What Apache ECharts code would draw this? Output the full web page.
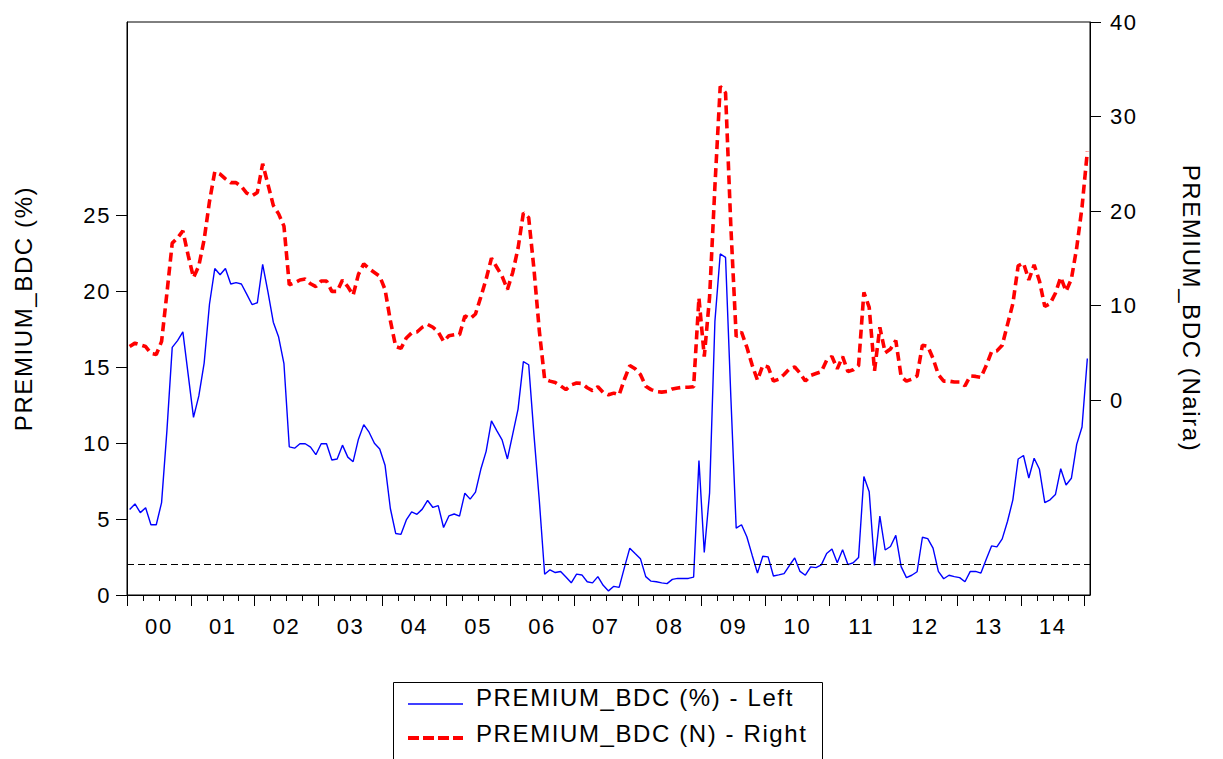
<!DOCTYPE html>
<html>
<head>
<meta charset="utf-8">
<title>PREMIUM_BDC</title>
<script src="https://cdn.jsdelivr.net/npm/echarts@6.0.0/dist/echarts.min.js"></script>
<style>
  html, body { margin: 0; padding: 0; background: #fff; }
  #main { width: 1223px; height: 759px; }
  /* eviews spaces its letters a bit wider than plain arial */
  #main svg text { letter-spacing: 1.6px; }
</style>
</head>
<body>
<div id="main"></div>
<script>
// monthly observations, 2000M01 .. 2015M01
const startYear = 2000;
const yearLabels = ['00', '01', '02', '03', '04', '05', '06', '07', '08', '09', '10', '11', '12', '13', '14'];

// PREMIUM_BDC (%) - left axis
const premiumPct = [
  5.63, 5.99, 5.42, 5.74, 4.62, 4.62, 6.08, 10.8, 16.29, 16.74, 17.31, 14.5,
  11.69, 13.1, 15.26, 19.13, 21.48, 21.07, 21.48, 20.46, 20.55, 20.46, 19.8, 19.11,
  19.23, 21.75, 19.93, 17.95, 16.97, 15.22, 9.75, 9.66, 9.95, 9.95, 9.73, 9.23,
  9.95, 9.95, 8.88, 8.95, 9.86, 9.07, 8.77, 10.25, 11.21, 10.71, 9.98, 9.61,
  8.54, 5.69, 4.05, 3.99, 4.94, 5.47, 5.31, 5.65, 6.22, 5.76, 5.88, 4.44,
  5.2, 5.33, 5.19, 6.7, 6.31, 6.77, 8.27, 9.45, 11.46, 10.82, 10.21, 8.95,
  10.59, 12.23, 15.35, 15.15, 10.5, 6.2, 1.37, 1.66, 1.48, 1.55, 1.18, 0.8,
  1.37, 1.32, 0.87, 0.8, 1.21, 0.64, 0.27, 0.57, 0.5, 1.82, 3.08, 2.73,
  2.39, 1.21, 0.91, 0.87, 0.8, 0.75, 1.03, 1.09, 1.09, 1.09, 1.18, 8.84,
  2.8, 6.72, 18.0, 22.44, 22.21, 13.0, 4.4, 4.62, 3.83, 2.62, 1.44, 2.55,
  2.51, 1.25, 1.32, 1.41, 1.94, 2.44, 1.55, 1.3, 1.85, 1.8, 1.98, 2.73,
  3.03, 2.12, 2.98, 2.0, 2.12, 2.46, 7.79, 6.79, 1.94, 5.19, 2.96, 3.19,
  3.92, 1.87, 1.14, 1.3, 1.53, 3.8, 3.71, 3.08, 1.55, 1.07, 1.3, 1.21,
  1.14, 0.87, 1.55, 1.55, 1.44, 2.35, 3.23, 3.17, 3.69, 4.85, 6.26, 8.95,
  9.18, 7.7, 9.0, 8.27, 6.08, 6.26, 6.61, 8.31, 7.24, 7.68, 9.91, 11.05,
  15.56
];

// PREMIUM_BDC (Naira) - right axis
const premiumNaira = [
  5.66, 6.02, 5.84, 5.66, 4.93, 4.82, 6.2, 11.3, 16.6, 17.15, 17.9, 15.3,
  12.96, 14.2, 16.97, 21.0, 24.16, 23.9, 23.4, 23.0, 23.0, 22.6, 21.9, 21.6,
  21.97, 25.0, 22.8, 20.6, 19.7, 18.4, 12.2, 12.4, 12.7, 12.8, 12.3, 12.0,
  12.6, 12.6, 11.5, 11.5, 12.7, 12.0, 11.1, 13.3, 14.4, 13.9, 13.5, 13.1,
  11.7, 8.4, 5.66, 5.47, 6.57, 7.1, 7.2, 7.7, 8.0, 7.7, 7.2, 6.2,
  6.8, 6.9, 6.9, 8.9, 8.6, 9.1, 10.9, 12.8, 15.0, 14.05, 13.1, 11.7,
  13.5, 16.06, 19.8, 19.3, 13.8, 7.3, 2.2, 2.0, 1.85, 1.5, 1.1, 1.6,
  1.8, 1.75, 1.3, 1.0, 1.4, 0.8, 0.55, 0.73, 0.55, 2.2, 3.65, 3.3,
  2.7, 1.46, 1.1, 0.9, 0.84, 0.9, 1.17, 1.28, 1.35, 1.35, 1.4, 10.8,
  4.6, 10.9, 22.6, 33.2, 32.5, 18.3, 6.7, 7.2, 5.6, 3.7, 2.1, 3.65,
  3.5, 2.0, 2.2, 2.7, 3.3, 3.5, 2.85, 2.0, 2.6, 2.8, 3.0, 4.2,
  4.6, 3.3, 4.6, 3.0, 3.2, 3.65, 11.4, 9.8, 3.1, 7.7, 5.0, 5.4,
  6.3, 2.5, 2.0, 2.2, 2.55, 5.8, 5.7, 4.4, 2.7, 2.0, 2.0, 1.9,
  1.9, 1.5, 2.55, 2.5, 2.4, 3.65, 5.1, 5.2, 5.8, 8.0, 10.2, 14.2,
  14.5, 12.7, 14.3, 12.6, 9.9, 10.2, 11.3, 13.0, 11.5, 12.8, 16.1, 20.4,
  26.3
];

const leftTicks = [0, 5, 10, 15, 20, 25];
const rightTicks = [0, 10, 20, 30, 40];
const refLevel = 2; // dashed reference line, left scale
const seriesNames = ['PREMIUM_BDC (%) - Left', 'PREMIUM_BDC (N) - Right'];

const fontFam = '"Liberation Sans", Arial, sans-serif';
const nMonths = premiumPct.length;
const xMax = startYear + nMonths / 12;

// each observation sits in the middle of its month
const toPoints = arr => arr.map((v, i) => [startYear + (i + 0.5) / 12, v]);

const quarterTicks = [];
for (let q = 0; q <= yearLabels.length * 4; q++) quarterTicks.push(startYear + q / 4);
const yearTicks = [];
for (let y = 0; y <= yearLabels.length; y++) yearTicks.push(startYear + y);
const yearMids = yearLabels.map((l, i) => startYear + i + 0.5);

const chart = echarts.init(document.getElementById('main'), null, { renderer: 'svg' });

// boxed legend like the eviews output (bottom edge runs off the page)
const legendGraphic = {
  type: 'group',
  left: 393, top: 682,
  children: [
    { type: 'rect', shape: { x: 0.5, y: 0.5, width: 429, height: 100 },
      style: { fill: '#fff', stroke: '#000', lineWidth: 1 } },
    { type: 'line', shape: { x1: 15, y1: 22, x2: 70, y2: 22 },
      style: { stroke: '#0000ff', lineWidth: 1.4 } },
    { type: 'text', x: 83, y: 15,
      style: { text: seriesNames[0], font: '24px ' + fontFam, fill: '#000', verticalAlign: 'middle' } },
    { type: 'line', shape: { x1: 15, y1: 56, x2: 70, y2: 56 },
      style: { stroke: '#ff0000', lineWidth: 4, lineDash: [11, 4] } },
    { type: 'text', x: 83, y: 51,
      style: { text: seriesNames[1], font: '24px ' + fontFam, fill: '#000', verticalAlign: 'middle' } }
  ]
};

const option = {
  animation: false,
  backgroundColor: '#fff',
  textStyle: { fontFamily: fontFam, color: '#000' },
  grid: {
    left: 127, right: 133, top: 22, bottom: 164,
    show: true, borderColor: '#000', borderWidth: 1,
    outerBoundsMode: 'none'
  },
  graphic: [legendGraphic],
  xAxis: [
    {
      // quarter ticks
      type: 'value', min: startYear, max: xMax, position: 'bottom',
      axisLine: { show: true, onZero: false, lineStyle: { color: '#000', width: 1 } },
      axisTick: { show: true, customValues: quarterTicks, length: 6, lineStyle: { color: '#000' } },
      axisLabel: { show: false },
      splitLine: { show: false }
    },
    {
      // year ticks + labels
      type: 'value', min: startYear, max: xMax, position: 'bottom',
      axisLine: { show: false, onZero: false },
      axisTick: { show: true, customValues: yearTicks, length: 11, lineStyle: { color: '#000' } },
      axisLabel: {
        customValues: yearMids, fontSize: 22, color: '#000', margin: 20, fontFamily: fontFam,
        formatter: v => yearLabels[Math.floor(v + 1e-6) - startYear]
      },
      splitLine: { show: false }
    }
  ],
  yAxis: [
    {
      type: 'value', position: 'left', min: 0, max: 37.7,
      name: 'PREMIUM_BDC (%)', nameLocation: 'middle', nameGap: 92,
      nameTextStyle: { fontSize: 24, color: '#000', fontFamily: fontFam },
      axisLine: { show: true, lineStyle: { color: '#000' } },
      axisTick: { show: true, customValues: leftTicks, length: 11, lineStyle: { color: '#000' } },
      axisLabel: { customValues: leftTicks, fontSize: 22, color: '#000', margin: 16, fontFamily: fontFam },
      splitLine: { show: false }
    },
    {
      type: 'value', position: 'right', min: -20.63, max: 40,
      name: 'PREMIUM_BDC (Naira)', nameLocation: 'middle', nameGap: 89, nameRotate: -90,
      nameTextStyle: { fontSize: 24, color: '#000', fontFamily: fontFam },
      axisLine: { show: true, lineStyle: { color: '#000' } },
      axisTick: { show: true, customValues: rightTicks, length: 11, lineStyle: { color: '#000' } },
      axisLabel: { customValues: rightTicks, fontSize: 22, color: '#000', margin: 20, fontFamily: fontFam },
      splitLine: { show: false }
    }
  ],
  series: [
    {
      name: seriesNames[0],
      type: 'line',
      xAxisIndex: 0, yAxisIndex: 0,
      data: toPoints(premiumPct),
      symbol: 'none',
      lineStyle: { color: '#0000ff', width: 1.4 },
      itemStyle: { color: '#0000ff' },
      markLine: {
        silent: true,
        symbol: 'none',
        label: { show: false },
        lineStyle: { color: '#000', width: 1, type: [7, 4] },
        data: [{ yAxis: refLevel }]
      },
      z: 3
    },
    {
      name: seriesNames[1],
      type: 'line',
      xAxisIndex: 0, yAxisIndex: 1,
      data: toPoints(premiumNaira),
      symbol: 'none',
      lineStyle: { color: '#ff0000', width: 3.6, type: [9, 5] },
      itemStyle: { color: '#ff0000' },
      z: 2
    }
  ]
};

chart.setOption(option);
</script>
</body>
</html>
